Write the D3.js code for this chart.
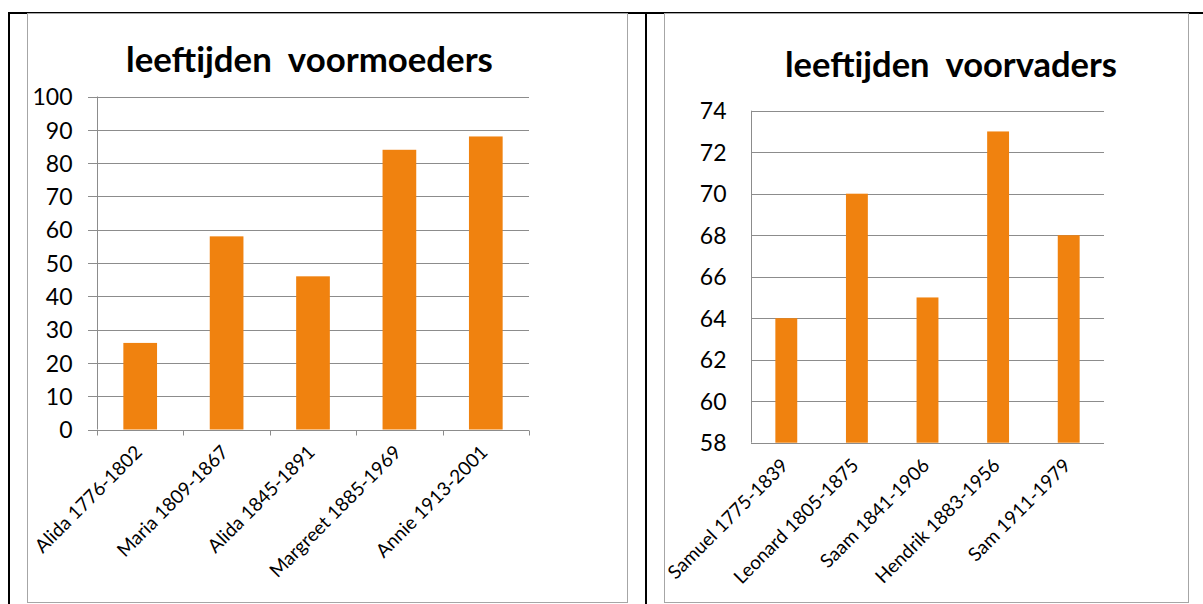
<!DOCTYPE html>
<html>
<head>
<meta charset="utf-8">
<script src="https://cdn.jsdelivr.net/npm/d3@7"></script>
<style>
  body { margin: 0; background: #fff; }
  text { font-family: Lato, "Open Sans", sans-serif; fill: #000; }
  .grid line { stroke: #8c8c8c; stroke-width: 1; }
  .axis path, .axis line { stroke: #8c8c8c; stroke-width: 1; }
</style>
</head>
<body>
<script>

// voormoeders
var momNames = ["Alida 1776-1802", "Maria 1809-1867", "Alida 1845-1891", "Margreet 1885-1969", "Annie 1913-2001"];
var momAges = [26, 58, 46, 84, 88];
var momTicks = [0, 10, 20, 30, 40, 50, 60, 70, 80, 90, 100];

// voorvaders
var dadNames = ["Samuel 1775-1839", "Leonard 1805-1875", "Saam 1841-1906", "Hendrik 1883-1956", "Sam 1911-1979"];
var dadAges = [64, 70, 65, 73, 68];
var dadTicks = [58, 60, 62, 64, 66, 68, 70, 72, 74];

var barColor = "#f0820f";

var svg = d3.select("body").append("svg")
  .attr("width", 1203)
  .attr("height", 604);

svg.append("rect").attr("width", 1203).attr("height", 604).attr("fill", "#fff");

// table borders
svg.append("line").attr("x1", 8).attr("x2", 1203).attr("y1", 13).attr("y2", 13)
  .attr("stroke", "#000").attr("stroke-width", 2);
svg.append("line").attr("x1", 9).attr("x2", 9).attr("y1", 12).attr("y2", 604)
  .attr("stroke", "#000").attr("stroke-width", 2);
svg.append("line").attr("x1", 646).attr("x2", 646).attr("y1", 12).attr("y2", 604)
  .attr("stroke", "#000").attr("stroke-width", 2);

function fitText(sel, width) {
  var len = sel.node().getComputedTextLength();
  var fs = parseFloat(sel.style("font-size"));
  sel.style("font-size", (fs * width / len) + "px");
}

var drawChart = function (opt) {

  var g = svg.append("g");

  // chart frame
  g.append("rect")
    .attr("x", opt.box[0] + 0.5).attr("y", opt.box[1] + 0.5)
    .attr("width", opt.box[2] - opt.box[0]).attr("height", opt.box[3] - opt.box[1])
    .attr("fill", "#fff").attr("stroke", "#a6a6a6");

  var title = g.append("text")
    .attr("x", opt.titleX)
    .attr("y", opt.titleY)
    .style("white-space", "pre")
    .style("font-weight", "bold")
    .style("font-size", "30px")
    .text(opt.title);
  fitText(title, opt.titleW);

  var x = d3.scaleBand()
    .domain(opt.names)
    .range([opt.left, opt.right])
    .paddingInner(opt.pad)
    .paddingOuter(opt.pad / 2);

  var xTicks = d3.scaleBand().domain(opt.names).range([opt.left, opt.right]);

  var y = d3.scaleLinear()
    .domain(d3.extent(opt.ticks))
    .range([opt.bottom, opt.top]);

  // gridlines
  g.append("g")
    .attr("class", "grid")
    .selectAll("line")
    .data(opt.ticks)
    .enter().append("line")
    .attr("x1", opt.left - opt.tick)
    .attr("x2", opt.right)
    .attr("y1", function(d) { return Math.round(y(d)) + 0.5; })
    .attr("y2", function(d) { return Math.round(y(d)) + 0.5; });

  // y axis
  var yAxis = d3.axisLeft(y)
    .tickValues(opt.ticks)
    .tickSize(0)
    .tickFormat(d3.format("d"));

  g.append("g")
    .attr("class", "axis")
    .attr("transform", "translate(" + (opt.left + 0.5) + ",0)")
    .call(yAxis)
    .call(function(s) { s.select(".domain").remove(); })
    .selectAll("text")
    .attr("x", opt.labelX - opt.left)
    .attr("dy", "0.36em")
    .style("font-size", "23px")
    .style("font-family", "Lato, sans-serif");

  g.append("line")
    .attr("x1", opt.left + 0.5).attr("x2", opt.left + 0.5)
    .attr("y1", opt.top).attr("y2", opt.bottom)
    .attr("stroke", "#8c8c8c");

  // bars
  g.append("g")
    .selectAll("rect")
    .data(opt.values)
    .enter().append("rect")
    .attr("x", function(d, i) { return x(opt.names[i]); })
    .attr("width", x.bandwidth())
    .attr("y", function(d) { return y(d); })
    .attr("height", function(d) { return opt.bottom - y(d); })
    .attr("fill", barColor);

  // x axis
  var xAxis = d3.axisBottom(xTicks)
    .tickSize(0)
    .tickFormat("");

  var xg = g.append("g")
    .attr("class", "axis")
    .attr("transform", "translate(0," + (Math.round(opt.bottom) + 0.5) + ")")
    .call(xAxis);
  xg.select(".domain").attr("d", "M" + (opt.left - opt.tick) + ",0H" + opt.right);

  if (opt.tick > 0) {
    var edges = opt.names.map(function(n) { return xTicks(n); }).concat([opt.right]);
    xg.selectAll(".edge")
      .data(edges)
      .enter().append("line")
      .attr("x1", function(d) { return Math.round(d) + 0.5; })
      .attr("x2", function(d) { return Math.round(d) + 0.5; })
      .attr("y1", 0).attr("y2", 5)
      .attr("stroke", "#8c8c8c");
  }

  g.append("g")
    .selectAll("text")
    .data(opt.names)
    .enter().append("text")
    .attr("transform", function(d) {
      return "translate(" + (xTicks(d) + xTicks.bandwidth() / 2 + 3) + "," + (opt.bottom + 24) + ") rotate(-45)";
    })
    .attr("text-anchor", "end")
    .style("font-size", "19px")
    .text(function(d) { return d; });
};

drawChart({
  box: [27, 13, 627, 602],
  title: "leeftijden  voormoeders",
  titleX: 126, titleY: 72, titleW: 367,
  names: momNames, values: momAges, ticks: momTicks,
  left: 97, right: 529, top: 96.5, bottom: 429.5,
  pad: 0.61, tick: 9, labelX: 72
});

drawChart({
  box: [664, 13, 1188, 602],
  title: "leeftijden  voorvaders",
  titleX: 785, titleY: 77, titleW: 332,
  names: dadNames, values: dadAges, ticks: dadTicks,
  left: 751, right: 1104, top: 110.7, bottom: 442.7,
  pad: 0.69, tick: 0, labelX: 726
});

</script>
</body>
</html>
